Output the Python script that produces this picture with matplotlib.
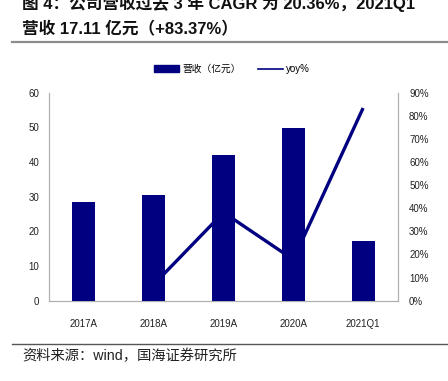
import matplotlib.pyplot as plt
from matplotlib.patches import Patch
from matplotlib.lines import Line2D
import numpy as np

# 数据
categories = ['2017A', '2018A', '2019A', '2020A', '2021Q1']
revenue = [28.5, 30.5, 42.1, 49.7, 17.11]
yoy_cats = ['2018A', '2019A', '2020A', '2021Q1']
yoy = [7.0, 38.2, 17.8, 83.37]
left_ticks = [0, 10, 20, 30, 40, 50, 60]
right_ticks = [0, 10, 20, 30, 40, 50, 60, 70, 80, 90]

navy = '#000080'
cjk = ['Liberation Sans', 'Noto Sans CJK SC', 'DejaVu Sans']
plt.rcParams['font.family'] = cjk

fig = plt.figure(figsize=(4.48, 3.81), dpi=100)
W, H = 448, 381

def fx(px):
    return px / W

def fy(py):
    return 1 - py / H

# 标题
fig.text(fx(22), fy(3), '图 4：公司营收过去 3 年 CAGR 为 20.36%，2021Q1',
         fontsize=12, fontweight='bold', va='center', ha='left', color='#111111')
fig.text(fx(22), fy(29), '营收 17.11 亿元（+83.37%）',
         fontsize=12, fontweight='bold', va='center', ha='left', color='#111111')
fig.add_artist(Line2D([fx(12), 1], [fy(42), fy(42)], color='#8c8c8c', lw=1.6))
fig.add_artist(Line2D([fx(12), 1], [fy(344), fy(344)], color='#555555', lw=1.0))
fig.text(fx(22), fy(356), '资料来源：wind，国海证券研究所', fontsize=10.3,
         va='center', ha='left', color='#222222')

ax = fig.add_axes([fx(49), fy(300.7), fx(398) - fx(49), fy(92.7) - fy(300.7)])
ax2 = ax.twinx()
ax.set_zorder(ax2.get_zorder() + 1)
ax.patch.set_visible(False)

x = np.arange(len(categories))
ax.bar(x, revenue, width=0.33, color=navy, zorder=3)
xl = [categories.index(c) for c in yoy_cats]
ax2.plot(xl, yoy, color=navy, lw=2.4, solid_capstyle='butt')

ax.set_xlim(-0.5, len(categories) - 0.5)
ax.set_ylim(0, 60)
ax2.set_ylim(0, 90)
ax.set_yticks(left_ticks)
ax2.set_yticks(right_ticks)
ax2.set_yticklabels([f'{t}%' for t in right_ticks])
ax.set_xticks(x)
ax.set_xticklabels(categories)

for a in (ax, ax2):
    a.tick_params(length=0, labelsize=7, colors='#222222')
    for s in a.spines.values():
        s.set_color('#b0b0b0')
    a.spines['top'].set_visible(False)
ax.tick_params(axis='x', pad=13)
ax.tick_params(axis='y', pad=7)
ax2.tick_params(axis='y', pad=8)

handles = [Patch(color=navy, label='营收（亿元）'),
           Line2D([], [], color=navy, lw=1.2, label='yoy%')]
fig.legend(handles=handles, loc='center', bbox_to_anchor=(fx(232), fy(69)),
           ncol=2, frameon=False, fontsize=7, handlelength=2.6,
           handleheight=0.7, columnspacing=1.8, handletextpad=0.3)

fig.savefig('out.png', dpi=100)
